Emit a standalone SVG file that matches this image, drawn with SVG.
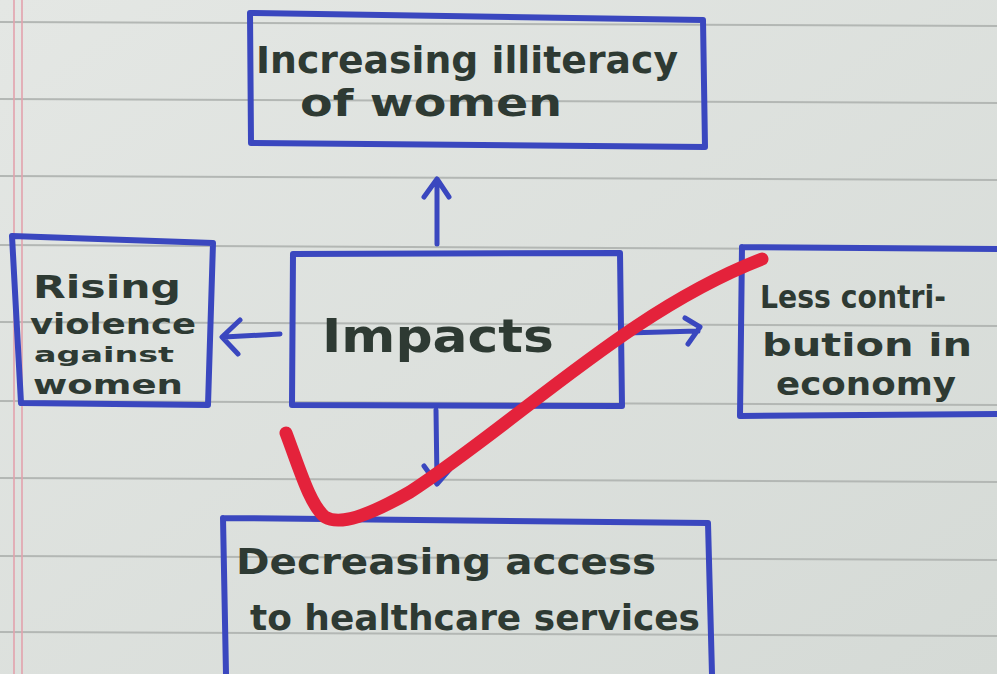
<svg xmlns="http://www.w3.org/2000/svg" width="997" height="674" viewBox="0 0 997 674">
<defs>
<linearGradient id="paper" x1="0" y1="0" x2="1" y2="1">
<stop offset="0" stop-color="#e4e7e4"/>
<stop offset="1" stop-color="#d5dad6"/>
</linearGradient>
<style>
.rule{stroke:#b3b7b4;stroke-width:2;fill:none}
.margin{stroke:#e3a2ad;stroke-width:1.6;fill:none}
.box{fill:none;stroke:#3a47bf;stroke-width:6;stroke-linejoin:round;stroke-linecap:round}
.conn{fill:none;stroke:#3a47bf;stroke-width:5;stroke-linecap:round;stroke-linejoin:round}
.t{font-family:"DejaVu Sans",sans-serif;fill:#2e3a33;font-weight:bold}
.tick{fill:none;stroke:#e4223b;stroke-width:13;stroke-linecap:round;stroke-linejoin:round}
</style>
</defs>
<rect width="997" height="674" fill="url(#paper)"/>
<g id="paper-lines">
<path class="rule" d="M0 22 L997 26"/>
<path class="rule" d="M0 99 L997 103"/>
<path class="rule" d="M0 176 L997 180"/>
<path class="rule" d="M0 245 L997 250"/>
<path class="rule" d="M0 322 L997 326"/>
<path class="rule" d="M0 401 L997 405"/>
<path class="rule" d="M0 478 L997 482"/>
<path class="rule" d="M0 556 L997 560"/>
<path class="rule" d="M0 632 L997 636"/>
<path class="margin" d="M14 0 L14 674"/>
<path class="margin" d="M22 0 L22 674"/>
</g>
<g id="node-top">
<path class="box" d="M250 13 L703 20 L705 147 L251 143 Z"/>
<text class="t" x="256" y="73" font-size="38" textLength="422" lengthAdjust="spacingAndGlyphs">Increasing illiteracy</text>
<text class="t" x="300" y="116" font-size="38" textLength="262" lengthAdjust="spacingAndGlyphs">of   women</text>
</g>
<g id="node-left">
<path class="box" d="M12 236 L213 243 L208 405 L21 403 Z"/>
<text class="t" x="33" y="298" font-size="32" textLength="148" lengthAdjust="spacingAndGlyphs">Rising</text>
<text class="t" x="30" y="334" font-size="28" textLength="166" lengthAdjust="spacingAndGlyphs">violence</text>
<text class="t" x="34" y="362" font-size="21" textLength="140" lengthAdjust="spacingAndGlyphs">against</text>
<text class="t" x="33" y="394" font-size="27" textLength="150" lengthAdjust="spacingAndGlyphs">women</text>
</g>
<g id="node-center">
<path class="box" d="M293 254 L620 253 L622 406 L292 405 Z"/>
<text class="t" x="322" y="352" font-size="46" font-weight="normal" textLength="232" lengthAdjust="spacingAndGlyphs">Impacts</text>
</g>
<g id="node-right">
<path class="box" d="M742 247 L997 249 M742 247 L740 416 L997 414"/>
<text class="t" x="760" y="308" font-size="32" textLength="186" lengthAdjust="spacingAndGlyphs">Less contri-</text>
<text class="t" x="762" y="356" font-size="32" textLength="210" lengthAdjust="spacingAndGlyphs">bution   in</text>
<text class="t" x="776" y="395" font-size="32" textLength="180" lengthAdjust="spacingAndGlyphs">economy</text>
</g>
<g id="node-bottom">
<path class="box" d="M223 518 L708 523 L712 674 M223 518 L226 674"/>
<text class="t" x="236" y="574" font-size="36" textLength="420" lengthAdjust="spacingAndGlyphs">Decreasing   access</text>
<text class="t" x="250" y="630" font-size="36" textLength="450" lengthAdjust="spacingAndGlyphs">to  healthcare services</text>
</g>
<g id="connectors">
<path class="conn" d="M437 244 L437 180 M424 197 L437 179 L449 197"/>
<path class="conn" d="M280 334 L224 337 M240 320 L222 337 L238 354"/>
<path class="conn" d="M626 333 L698 331 M685 318 L700 327 L688 344"/>
<path class="conn" d="M436 410 L437 482 M424 466 L437 484 L450 469"/>
</g>
<g id="checkmark">
<path class="tick" d="M286 433 C300 470 310 505 325 517 C340 526 370 515 410 492 C520 420 630 310 762 259"/>
</g>
</svg>
